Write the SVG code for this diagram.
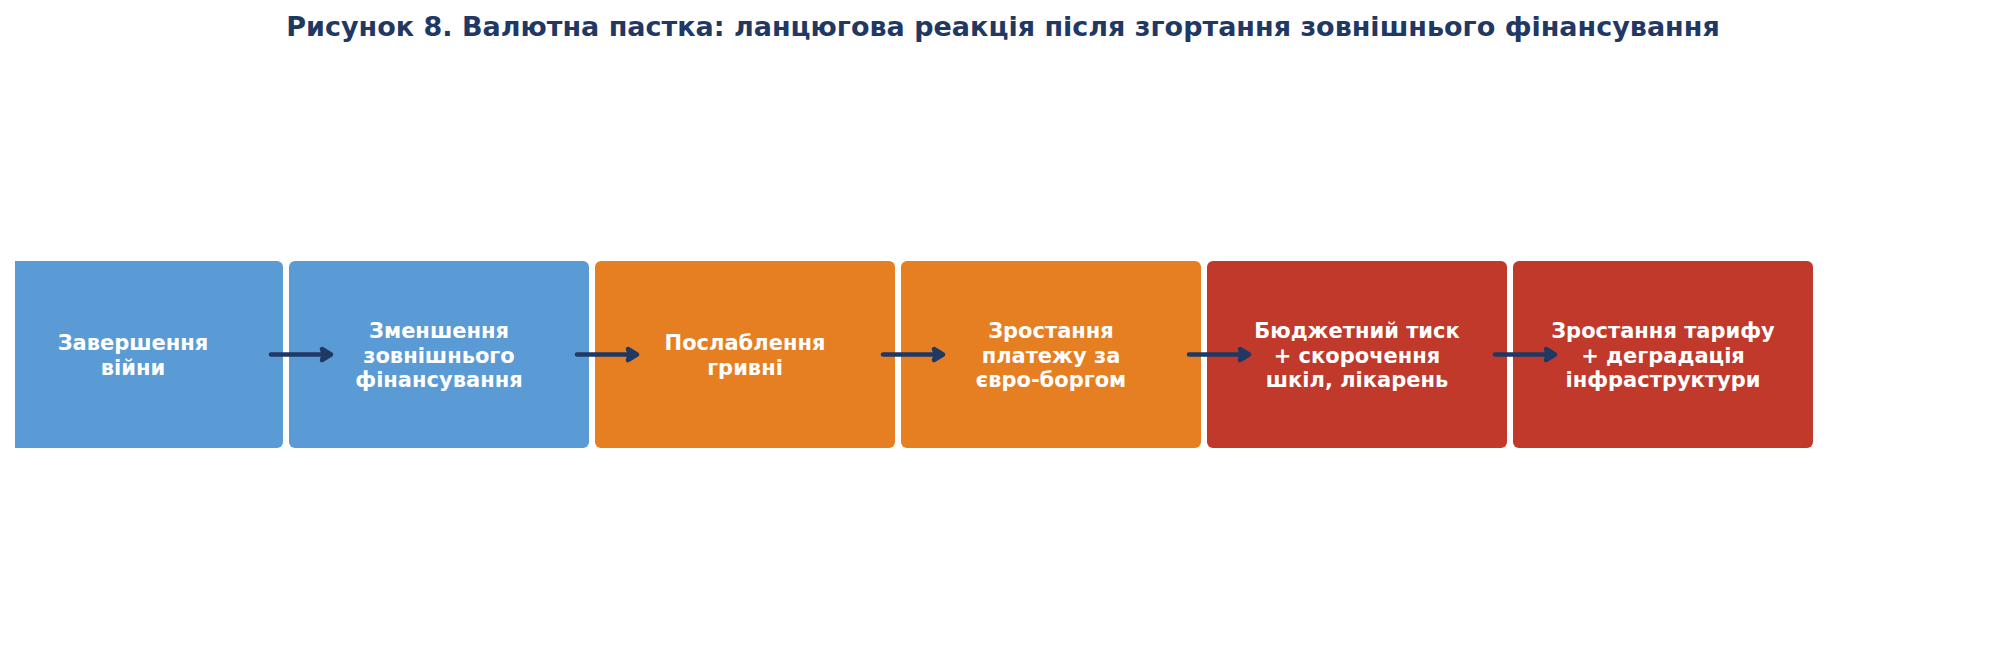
<svg xmlns="http://www.w3.org/2000/svg" width="2005" height="669" viewBox="0 0 2005 669">
<defs>
<style>
.t{font-family:"DejaVu Sans","Liberation Sans",sans-serif;font-weight:bold;fill:#1f3864;font-size:27px;text-anchor:middle}
.n{font-family:"DejaVu Sans","Liberation Sans",sans-serif;font-weight:bold;fill:#ffffff;font-size:21px;text-anchor:middle}
.blue{fill:#5b9bd5}.orange{fill:#e67e22}.red{fill:#c0392b}
.c{stroke:#1f3864;stroke-width:4.5;stroke-linecap:round;fill:none}
.h{fill:#1f3864;stroke:#1f3864;stroke-width:4.5;stroke-linejoin:round;stroke-linecap:round}
</style>
<clipPath id="clip"><rect x="15" y="0" width="1990" height="669"/></clipPath>
</defs>
<rect width="2005" height="669" fill="#ffffff"/>
<text class="t" x="1003" y="36">Рисунок 8. Валютна пастка: ланцюгова реакція після згортання зовнішнього фінансування</text>
<g id="node1" clip-path="url(#clip)">
<rect class="blue" x="-17" y="261" width="300" height="187" rx="6"/>
<text class="n" x="133" y="350"><tspan x="133">Завершення</tspan><tspan x="133" dy="24.5">війни</tspan></text>
</g>
<g id="node2">
<rect class="blue" x="289" y="261" width="300" height="187" rx="6"/>
<text class="n" x="439" y="338"><tspan x="439">Зменшення</tspan><tspan x="439" dy="24.5">зовнішнього</tspan><tspan x="439" dy="24.5">фінансування</tspan></text>
</g>
<g id="node3">
<rect class="orange" x="595" y="261" width="300" height="187" rx="6"/>
<text class="n" x="745" y="350"><tspan x="745">Послаблення</tspan><tspan x="745" dy="24.5">гривні</tspan></text>
</g>
<g id="node4">
<rect class="orange" x="901" y="261" width="300" height="187" rx="6"/>
<text class="n" x="1051" y="338"><tspan x="1051">Зростання</tspan><tspan x="1051" dy="24.5">платежу за</tspan><tspan x="1051" dy="24.5">євро-боргом</tspan></text>
</g>
<g id="node5">
<rect class="red" x="1207" y="261" width="300" height="187" rx="6"/>
<text class="n" x="1357" y="338"><tspan x="1357">Бюджетний тиск</tspan><tspan x="1357" dy="24.5">+ скорочення</tspan><tspan x="1357" dy="24.5">шкіл, лікарень</tspan></text>
</g>
<g id="node6">
<rect class="red" x="1513" y="261" width="300" height="187" rx="6"/>
<text class="n" x="1663" y="338"><tspan x="1663">Зростання тарифу</tspan><tspan x="1663" dy="24.5">+ деградація</tspan><tspan x="1663" dy="24.5">інфраструктури</tspan></text>
</g>
<g id="connectors">
<g><line class="c" x1="271" y1="354.5" x2="329" y2="354.5"/><path class="h" d="M322,349 L331,354.5 L322,360 L324,354.5 Z"/></g>
<g transform="translate(306,0)"><line class="c" x1="271" y1="354.5" x2="329" y2="354.5"/><path class="h" d="M322,349 L331,354.5 L322,360 L324,354.5 Z"/></g>
<g transform="translate(612,0)"><line class="c" x1="271" y1="354.5" x2="329" y2="354.5"/><path class="h" d="M322,349 L331,354.5 L322,360 L324,354.5 Z"/></g>
<g transform="translate(918,0)"><line class="c" x1="271" y1="354.5" x2="329" y2="354.5"/><path class="h" d="M322,349 L331,354.5 L322,360 L324,354.5 Z"/></g>
<g transform="translate(1224,0)"><line class="c" x1="271" y1="354.5" x2="329" y2="354.5"/><path class="h" d="M322,349 L331,354.5 L322,360 L324,354.5 Z"/></g>
</g>
</svg>
